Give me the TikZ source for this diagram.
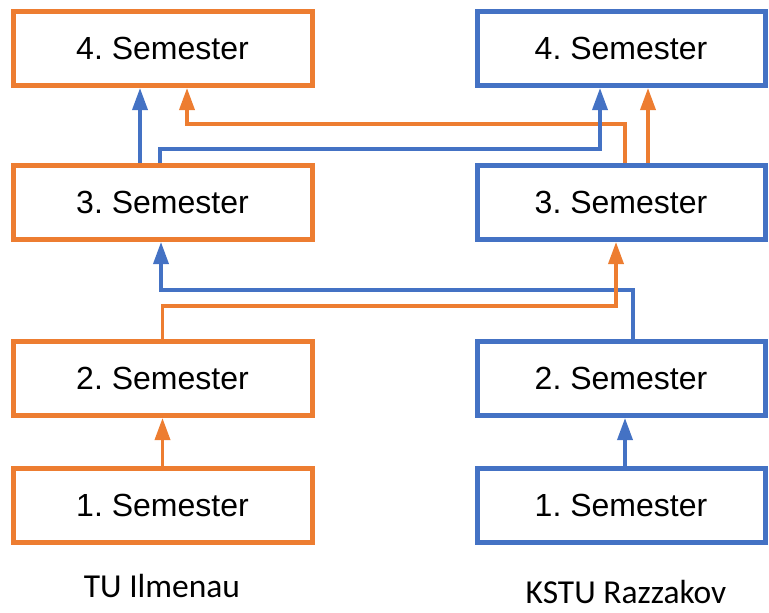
\documentclass[tikz,border=0pt]{standalone}
\usepackage{fontspec}
\setmainfont{Liberation Sans}
\newfontfamily\unifont{Carlito}
\usetikzlibrary{arrows.meta,positioning}
\definecolor{tuorange}{RGB}{237,125,49}
\definecolor{kstublue}{RGB}{68,114,196}
\frenchspacing

\begin{document}
\begin{tikzpicture}[
    x=1pt, y=-1pt,
    semester/.style={
        rectangle, line width=5pt, fill=white,
        minimum height=74pt, inner sep=0pt, outer sep=2.5pt,
        font=\fontsize{32}{38}\selectfont
    },
    tubox/.style={semester, draw=tuorange, minimum width=299pt},
    kstubox/.style={semester, draw=kstublue, minimum width=288pt},
    link/.style={line width=3.5pt, -{Triangle[width=15pt,length=22pt]}},
    university/.style={font=\unifont\fontsize{33.5}{40}\selectfont, inner sep=0pt, anchor=base}
]
\useasboundingbox (0,0) rectangle (769,613);

\node[tubox] (L1) at (162.5,505.5) {1. Semester};
\node[tubox, above=48pt of L1] (L2) {2. Semester};
\node[tubox, above=97pt of L2] (L3) {3. Semester};
\node[tubox, above=75pt of L3] (L4) {4. Semester};

\node[kstubox, right=160pt of L1] (R1) {1. Semester};
\node[kstubox, right=160pt of L2] (R2) {2. Semester};
\node[kstubox, right=160pt of L3] (R3) {3. Semester};
\node[kstubox, right=160pt of L4] (R4) {4. Semester};

\node[university] (tu) at (162,597) {TU Ilmenau};
\node[university] (kstu) at (626,603) {KSTU Razzakov};

\draw[link, tuorange] (L1) -- (L2);
\draw[link, kstublue] ([xshift=4pt]R1.north) -- ([xshift=4pt]R2.south);

\draw[link, kstublue] ([xshift=12pt]R2.north) -- ++(0,-49) -| ([xshift=-1.5pt]L3.south);
\draw[link, tuorange] (L2.north) -- ++(0,-33) -| ([xshift=-5pt]R3.south);

\draw[link, tuorange] ([xshift=4pt]R3.north) -- ++(0,-39) -| ([xshift=24.5pt]L4.south);
\draw[link, tuorange] ([xshift=27pt]R3.north) -- ([xshift=27pt]R4.south);
\draw[link, kstublue] ([xshift=-2.5pt]L3.north) -- ++(0,-14) -| ([xshift=-21pt]R4.south);
\draw[link, kstublue] ([xshift=-22.5pt]L3.north) -- ([xshift=-22.5pt]L4.south);

\end{tikzpicture}
\end{document}
